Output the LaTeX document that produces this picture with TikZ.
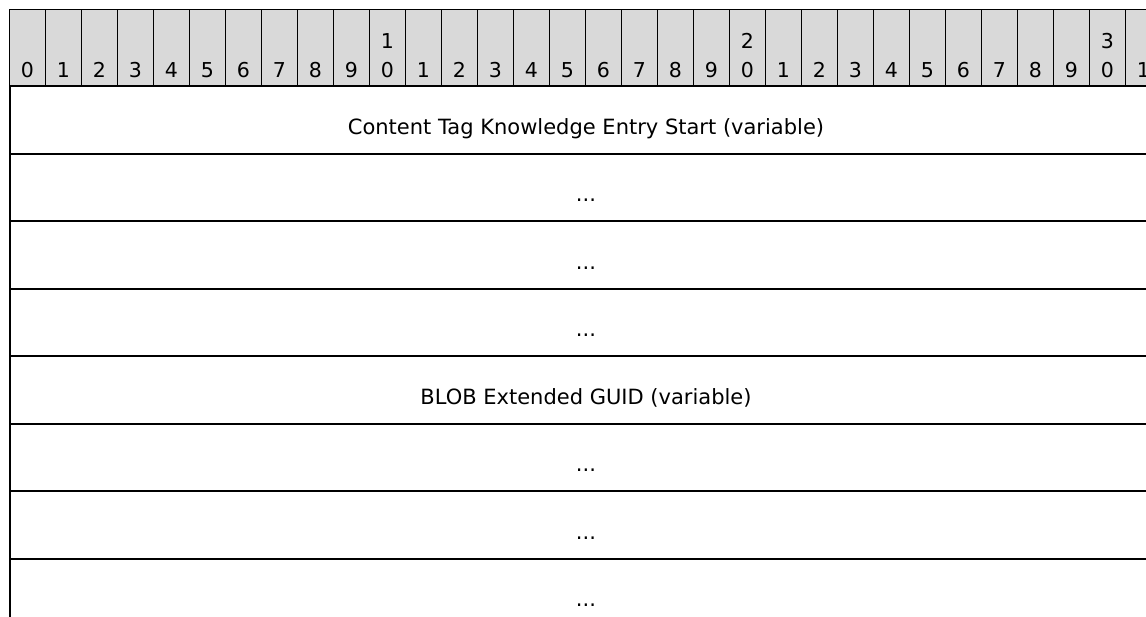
\documentclass[tikz,border=0pt]{standalone}
\usepackage{fontspec}
\setmainfont{DejaVu Sans}
\definecolor{rulergray}{RGB}{217,217,217}
\newcommand{\contdots}{...}
\tikzset{
  bitcell/.style={
    draw=black, fill=rulergray, line width=1pt,
    minimum width=36pt, minimum height=76pt,
    inner sep=0pt, anchor=north west
  },
  bitlabel/.style={
    font=\fontsize{20.5}{25}\selectfont,
    inner sep=0pt, anchor=base
  },
  fieldrow/.style={
    draw=black, line width=2pt,
    minimum width=1152pt, minimum height=67.5pt,
    inner sep=0pt, anchor=north west,
    text height=29pt, text depth=0pt,
    font=\fontsize{21}{25}\selectfont
  },
}

\begin{document}
\begin{tikzpicture}[x=1pt, y=1pt]
  \useasboundingbox (0,0) rectangle (1146,-616);
  \clip (0,0) rectangle (1146,-616);

  %% Bit ruler
  \foreach \i in {0,...,31} {
    \pgfmathtruncatemacro{\ones}{mod(\i,10)}
    \pgfmathtruncatemacro{\tens}{\i/10}
    \node[bitcell] (b\i) at (9+36*\i,-9) {};
    \node[bitlabel] (o\i) at ([yshift=9pt]b\i.south) {\ones};
    \ifnum\ones=0 \ifnum\i>0
      \node[bitlabel] (t\i) at ([yshift=38pt]b\i.south) {\tens};
    \fi\fi
  }

  %% Fields
  \foreach \lbl [count=\n from 0] in {
      {Content Tag Knowledge Entry Start (variable)},
      \contdots, \contdots, \contdots,
      {BLOB Extended GUID (variable)},
      \contdots, \contdots, \contdots} {
    \node[fieldrow] (f\n) at (9,-85-67.5*\n) {\lbl};
  }

\end{tikzpicture}
\end{document}
